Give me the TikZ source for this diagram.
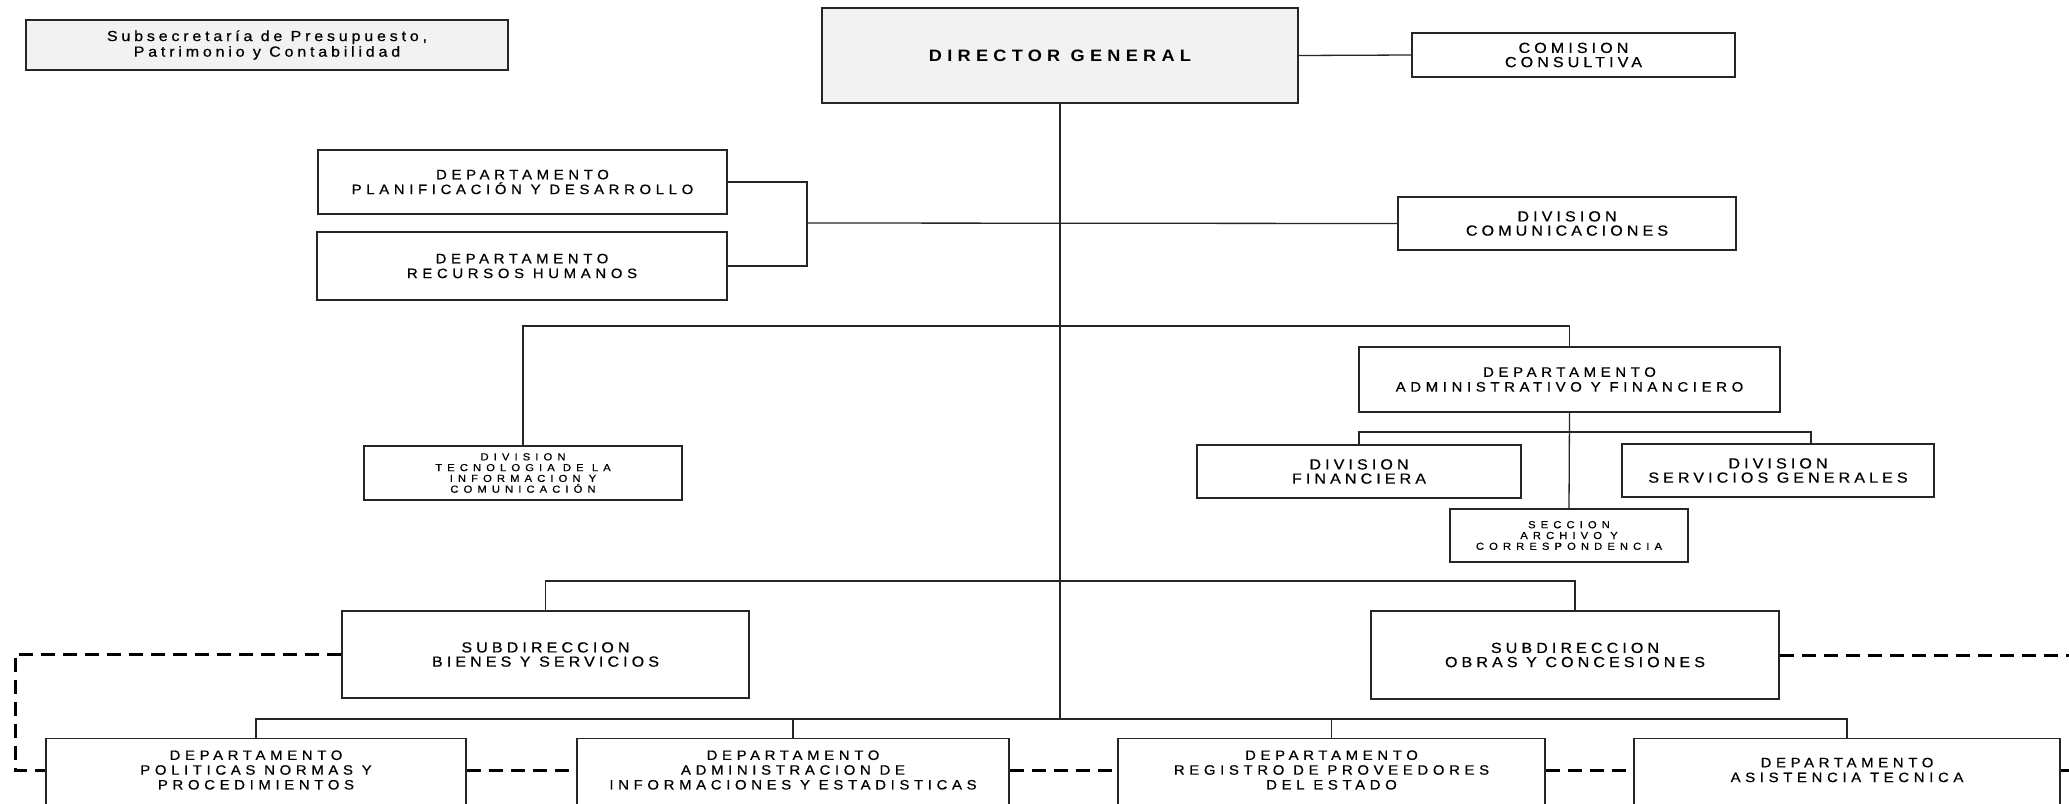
\documentclass[tikz,border=0pt]{standalone}
\usepackage{fontspec}
\setmainfont{Liberation Sans}
\newfontfamily\deptfnt[LetterSpace=34,FakeStretch=1.1,FakeBold=0.6]{Liberation Sans}
\newfontfamily\divfnt[LetterSpace=28,FakeStretch=1.1,FakeBold=0.6]{Liberation Sans}
\newfontfamily\secfnt[LetterSpace=50,FakeStretch=1.1,FakeBold=0.6]{Liberation Sans}
\newfontfamily\subsfnt[LetterSpace=26,FakeStretch=1.1,FakeBold=0.6]{Liberation Sans}
\newfontfamily\dgfnt[LetterSpace=32,FakeStretch=1.1]{Liberation Sans}
\definecolor{boxgray}{HTML}{F2F2F2}

\begin{document}
\begin{tikzpicture}[x=1pt,y=-1pt,
	unit/.style={draw=black!85,line width=1.4pt,fill=white,inner sep=0pt,align=center},
	grayunit/.style={unit,fill=boxgray},
	dept/.style={unit,font=\deptfnt\fontsize{13.6}{14.8}\selectfont},
	divi/.style={unit,font=\divfnt\fontsize{14.6}{14.2}\selectfont},
	secc/.style={unit,font=\secfnt\fontsize{10.2}{10.8}\selectfont},
	depttxt/.style={inner sep=0pt,align=center,font=\deptfnt\fontsize{13.6}{14.8}\selectfont},
	link/.style={black!85,line width=1.3pt},
	dashlink/.style={black,line width=3pt,dash pattern=on 14pt off 8pt}]
	\path[use as bounding box,clip] (0,0) rectangle (2069,803);
	\fill[white] (0,0) rectangle (2069,803);

	\coordinate (brk) at (807,223);
	\coordinate (bus1) at (0,326);
	\coordinate (subbus) at (1570,432);
	\coordinate (bus3) at (0,581);
	\coordinate (bus4) at (1066,719);
	\coordinate (lftedge) at (15,0);
	\coordinate (rgtedge) at (2080,0);

	\node[grayunit,minimum width=482pt,minimum height=50pt,font=\subsfnt\fontsize{14.6}{15.6}\selectfont] (subs) at (267,45) {Subsecretaría de Presupuesto,\\Patrimonio y Contabilidad};
	\node[grayunit,minimum width=476pt,minimum height=95pt,font=\dgfnt\bfseries\fontsize{16.5}{17}\selectfont] (dg) at (1060,55.5) {DIRECTOR GENERAL};
	\node[divi,minimum width=323pt,minimum height=44pt] (comision) at (1573.5,55) {COMISION\\CONSULTIVA};
	\node[dept,minimum width=409pt,minimum height=64pt] (planif) at (522.5,182) {DEPARTAMENTO\\PLANIFICACIÓN Y DESARROLLO};
	\node[dept,minimum width=410pt,minimum height=68pt] (rrhh) at (522,266) {DEPARTAMENTO\\RECURSOS HUMANOS};
	\node[divi,minimum width=338pt,minimum height=53pt] (divcom) at (1567,223.5) {DIVISION\\COMUNICACIONES};
	\node[secc,minimum width=318pt,minimum height=54pt] (tec) at (523,473) {DIVISION\\TECNOLOGIA DE LA\\INFORMACION Y\\COMUNICACIÓN};
	\node[dept,minimum width=421pt,minimum height=65pt] (daf) at (1569.5,379.5) {DEPARTAMENTO\\ADMINISTRATIVO Y FINANCIERO};
	\node[divi,minimum width=324pt,minimum height=53pt] (fin) at (1359,471.5) {DIVISION\\FINANCIERA};
	\node[divi,minimum width=312pt,minimum height=53pt] (serv) at (1778,470.5) {DIVISION\\SERVICIOS GENERALES};
	\node[secc,minimum width=238pt,minimum height=53pt] (archivo) at (1569,535.5) {SECCION\\ARCHIVO Y\\CORRESPONDENCIA};
	\node[divi,minimum width=407pt,minimum height=87pt] (bienes) at (545.5,654.5) {SUBDIRECCION\\BIENES Y SERVICIOS};
	\node[divi,minimum width=408pt,minimum height=88pt] (obras) at (1575,655) {SUBDIRECCION\\OBRAS Y CONCESIONES};

	\node[unit,anchor=north,minimum width=420pt,minimum height=100pt] (polit) at (256,738) {};
	\node[unit,anchor=north,minimum width=432pt,minimum height=100pt] (info) at (793,738) {};
	\node[unit,anchor=north,minimum width=427pt,minimum height=100pt] (regis) at (1331.5,738) {};
	\node[unit,anchor=north,minimum width=426pt,minimum height=100pt] (asist) at (1847,738) {};
	\node[depttxt] (polittxt) at (256,770) {DEPARTAMENTO\\POLITICAS NORMAS Y\\PROCEDIMIENTOS};
	\node[depttxt] (infotxt) at (793,770) {DEPARTAMENTO\\ADMINISTRACION DE\\INFORMACIONES Y ESTADISTICAS};
	\node[depttxt] (registxt) at (1331.5,770) {DEPARTAMENTO\\REGISTRO DE PROVEEDORES\\DEL ESTADO};
	\node[depttxt] (asisttxt) at (1847,770) {DEPARTAMENTO\\ASISTENCIA TECNICA};

	\draw[link] (dg.east) -- (comision.west);
	\draw[link] (planif.east) -| (brk) |- (rrhh.east);
	\draw[link] (brk) -- (divcom.west);
	\draw[link] (dg.south) -- (dg.south |- bus4);
	\draw[link] (tec.north) |- (bus1 -| daf.north) -- (daf.north);
	\draw[link] (fin.north) |- (subbus) -| ([xshift=33pt]serv.north);
	\draw[link] (daf.south) -- (archivo.north);
	\draw[link] (bienes.north) |- (bus3 -| obras.north) -- (obras.north);
	\draw[link] (polit.north) |- (bus4 -| asist.north) -- (asist.north);
	\draw[link] (info.north) -- (info.north |- bus4);
	\draw[link] (regis.north) -- (regis.north |- bus4);

	\draw[dashlink] (bienes.west) -| (lftedge |- polittxt) -- (polittxt -| polit.west);
	\draw[dashlink] (polittxt -| polit.east) -- (infotxt -| info.west);
	\draw[dashlink] (infotxt -| info.east) -- (registxt -| regis.west);
	\draw[dashlink] (registxt -| regis.east) -- (asisttxt -| asist.west);
	\draw[dashlink] (asisttxt -| asist.east) -- (asisttxt -| rgtedge);
	\draw[dashlink] (obras.east) -- (obras.east -| rgtedge);
\end{tikzpicture}
\end{document}
